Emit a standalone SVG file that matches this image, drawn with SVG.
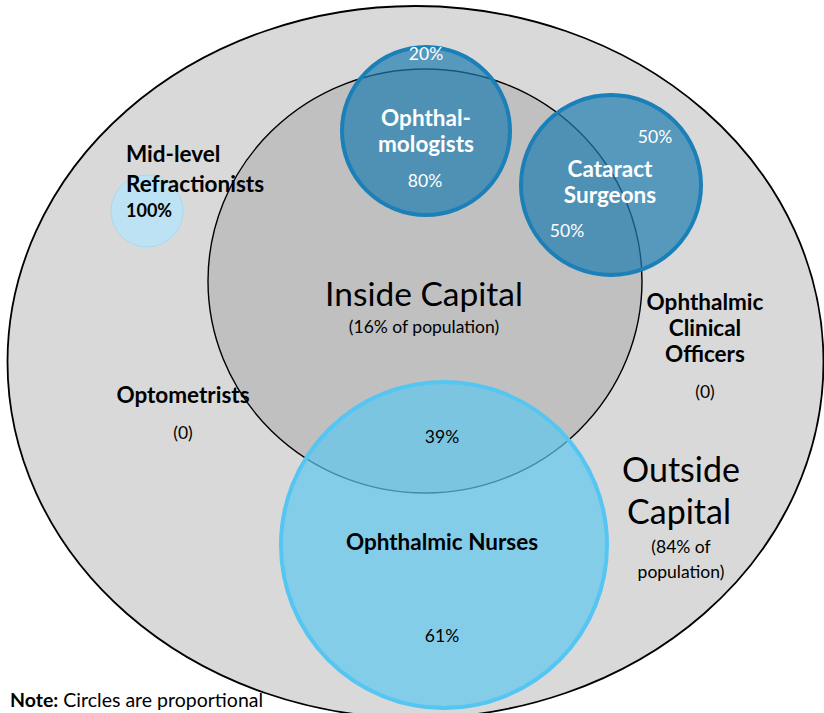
<svg xmlns="http://www.w3.org/2000/svg" width="824" height="713" viewBox="0 0 824 713">
<style>
text{font-family:Lato,"Open Sans","Liberation Sans",sans-serif}
.b{font-weight:bold}
.w{fill:#ffffff}
.k{fill:#000000}
.c{text-anchor:middle}
</style>
<rect width="824" height="713" fill="#ffffff"/>
<g id="outside-capital">
<ellipse cx="415.5" cy="362" rx="408" ry="356" fill="#d9d9d9" stroke="#000" stroke-width="1.8"/>
</g>
<g id="inside-capital">
<ellipse cx="425" cy="281" rx="217" ry="212" fill="#c0c0c0" stroke="#000" stroke-width="1.4"/>
</g>
<g id="mid-level-refractionists">
<circle cx="147" cy="211" r="36" fill="#bde2f3" stroke="#a9d9ef" stroke-width="1"/>
</g>
<g id="ophthalmologists">
<circle cx="426" cy="131" r="84" fill="#1f7eb0" fill-opacity="0.7" stroke="#1b7fb8" stroke-width="4"/>
</g>
<g id="cataract-surgeons">
<circle cx="611" cy="185" r="90" fill="#1f7eb0" fill-opacity="0.7" stroke="#1b7fb8" stroke-width="4"/>
</g>
<g id="ophthalmic-nurses">
<circle cx="444" cy="545" r="163" fill="#5fc7ef" fill-opacity="0.7" stroke="#55c5f2" stroke-width="4"/>
</g>
<g id="connectors"></g>
<g id="labels">
<text class="w c" x="426" y="60" font-size="17.5">20%</text>
<text class="w c b" x="426" y="126" font-size="22.5">Ophthal-</text>
<text class="w c b" x="426" y="152" font-size="22.5">mologists</text>
<text class="w c" x="425" y="187" font-size="17.5">80%</text>
<text class="w c" x="655" y="143" font-size="17.5">50%</text>
<text class="w c b" x="610" y="177" font-size="22.5">Cataract</text>
<text class="w c b" x="610" y="203" font-size="22.5">Surgeons</text>
<text class="w c" x="567" y="237" font-size="17.5">50%</text>
<text class="k b" x="126" y="162" font-size="22.5">Mid-level</text>
<text class="k b" x="126" y="192" font-size="22.5">Refractionists</text>
<text class="k b" x="126" y="217" font-size="18">100%</text>
<text class="k c" x="424" y="306" font-size="33.5">Inside Capital</text>
<text class="k c" x="424" y="333" font-size="17.5">(16% of population)</text>
<text class="k c b" x="705" y="310" font-size="22.5">Ophthalmic</text>
<text class="k c b" x="705" y="336" font-size="22.5">Clinical</text>
<text class="k c b" x="705" y="362" font-size="22.5">Officers</text>
<text class="k c" x="705" y="398" font-size="17.5">(0)</text>
<text class="k c" x="681" y="482" font-size="34">Outside</text>
<text class="k c" x="679" y="524" font-size="34">Capital</text>
<text class="k c" x="681" y="553" font-size="17.5">(84% of</text>
<text class="k c" x="681" y="578" font-size="17.5">population)</text>
<text class="k c b" x="183" y="403" font-size="22.5">Optometrists</text>
<text class="k c" x="183" y="439" font-size="17.5">(0)</text>
<text class="k c" x="442" y="443" font-size="17.5">39%</text>
<text class="k c b" x="442" y="550" font-size="22.5">Ophthalmic Nurses</text>
<text class="k c" x="442" y="642" font-size="17.5">61%</text>
<text class="k" x="10" y="707" font-size="19.5"><tspan class="b">Note:</tspan> Circles are proportional</text>
</g>
</svg>
